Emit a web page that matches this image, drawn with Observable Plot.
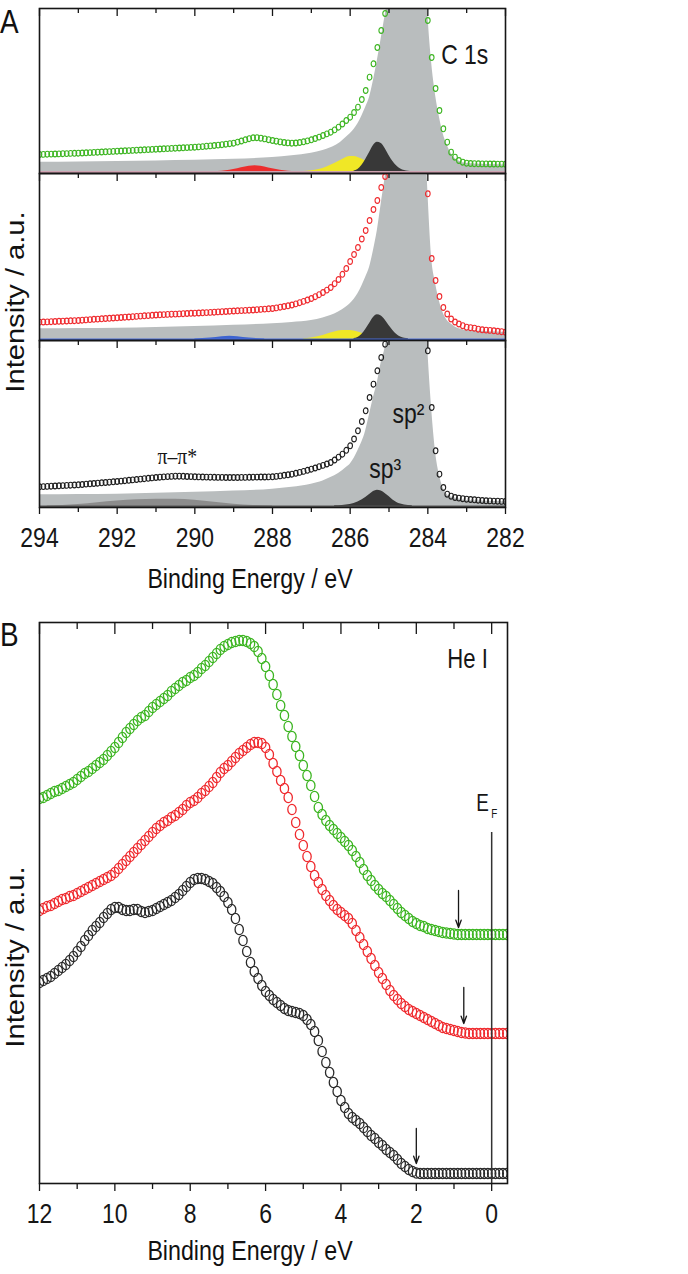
<!DOCTYPE html>
<html><head><meta charset="utf-8">
<script src="https://cdn.jsdelivr.net/npm/d3@7"></script>
<script src="https://cdn.jsdelivr.net/npm/@observablehq/plot@0.6"></script>
<style>
body{margin:0;background:#fff;}
#fig{position:relative;width:688px;height:1274px;background:#fff;overflow:hidden;}
.lbl{position:absolute;white-space:nowrap;color:#111;line-height:1;font-family:'Liberation Sans',Arial,sans-serif;}
</style></head><body><div id="fig"></div>
<script>
// ---------- Panel A (C 1s XPS): binding energy grid, eV ----------
const energyA = [
294.0,293.9,293.8,293.7,293.6,293.5,293.4,293.3,293.2,293.1,
293.0,292.9,292.8,292.7,292.6,292.5,292.4,292.3,292.2,292.1,
292.0,291.9,291.8,291.7,291.6,291.5,291.4,291.3,291.2,291.1,
291.0,290.9,290.8,290.7,290.6,290.5,290.4,290.3,290.2,290.1,
290.0,289.9,289.8,289.7,289.6,289.5,289.4,289.3,289.2,289.1,
289.0,288.9,288.8,288.7,288.6,288.5,288.4,288.3,288.2,288.1,
288.0,287.9,287.8,287.7,287.6,287.5,287.4,287.3,287.2,287.1,
287.0,286.9,286.8,286.7,286.6,286.5,286.4,286.3,286.2,286.1,
286.0,285.9,285.8,285.7,285.6,285.5,285.4,285.3,285.2,285.1,
285.0,284.9,284.8,284.7,284.6,284.5,284.4,284.3,284.2,284.1,
284.0,283.9,283.8,283.7,283.6,283.5,283.4,283.3,283.2,283.1,
283.0,282.9,282.8,282.7,282.6,282.5,282.4,282.3,282.2,282.1,
282.0];
// top spectrum (green)
const c1sGreen = [
19.0,19.1,19.3,19.4,19.5,19.6,19.8,19.9,20.1,20.2,
20.3,20.5,20.7,20.9,21.1,21.3,21.5,21.7,21.9,22.1,
22.3,22.5,22.7,22.9,23.1,23.3,23.5,23.7,23.9,24.1,
24.3,24.5,24.7,24.9,25.1,25.3,25.5,25.7,25.9,26.1,
26.3,26.6,26.9,27.3,27.6,28.0,28.4,28.8,29.3,29.8,
30.3,31.4,32.5,33.7,34.8,35.7,35.8,35.3,34.6,33.8,
33.0,32.3,31.6,31.0,30.6,30.3,30.5,31.0,31.7,32.6,
33.7,35.0,36.4,38.0,39.6,41.3,43.6,46.3,49.5,53.0,
56.3,61.0,66.3,74.0,83.0,96.3,109.7,126.0,143.0,160.0,
185,220,270,330,380,400,380,330,260,190,
153,116,85,63,44.7,31.3,21.3,16.3,13.0,11.3,
10.3,10.0,9.8,9.7,9.6,9.6,9.5,9.5,9.4,9.4,
9.3];
// middle spectrum (red)
const c1sRed = [
18.3,18.5,18.6,18.8,19.0,19.2,19.3,19.5,19.7,19.8,
20.0,20.3,20.6,20.9,21.2,21.4,21.7,22.0,22.2,22.5,
22.7,23.0,23.3,23.5,23.8,24.1,24.4,24.7,24.9,25.2,
25.5,25.7,25.9,26.1,26.3,26.4,26.6,26.8,27.0,27.2,
27.3,27.5,27.7,27.9,28.1,28.3,28.6,28.8,29.0,29.3,
29.5,29.7,29.9,30.1,30.3,30.5,30.8,31.1,31.4,31.7,
32.0,32.6,33.3,34.0,34.7,35.5,36.6,37.8,39.1,40.5,
42.0,43.8,45.8,48.0,50.4,53.0,56.8,61.0,66.2,72.0,
79.0,86.0,93.0,101.5,110.0,120.0,131.0,140.0,153.0,164.0,
190,230,280,340,390,410,390,340,270,200,
146.7,82,60,44,33,26.5,21.5,18.5,16.5,14.8,
13.3,12.8,12.3,11.3,10.7,10.4,10.1,9.7,9.2,8.8,
8.3];
// bottom spectrum (black)
const c1sBlack = [
20.7,20.9,21.1,21.3,21.5,21.7,21.9,22.1,22.3,22.5,
22.7,23.0,23.4,23.7,24.0,24.3,24.7,25.0,25.3,25.7,
26.0,26.4,26.8,27.2,27.6,28.0,28.4,28.8,29.2,29.6,
30.0,30.3,30.6,30.9,31.1,31.3,31.3,31.2,31.0,30.9,
30.7,30.6,30.5,30.4,30.3,30.2,30.1,30.1,30.0,30.0,
30.0,30.0,30.1,30.1,30.2,30.3,30.4,30.5,30.5,30.6,
30.7,31.1,31.6,32.2,32.7,33.3,34.2,35.1,36.1,37.2,
38.3,39.5,40.8,42.1,43.5,45.0,47.5,50.3,53.3,57.2,
61.7,68.5,76.7,86.0,96.7,110.0,123.3,136.7,150.0,163.3,
190,230,280,340,390,410,390,340,270,200,
156.7,100,56.7,33.3,20.0,13.3,11.3,10.0,9.4,8.8,
8.3,8.0,7.7,7.3,7.0,6.7,6.6,6.4,6.3,6.1,
6.0];
// sp2 component + background (grey fill)
const sp2Energy = [294,293,292,291,290,289,288,287.5,287,286.7,286.5,286.3,286.1,286.0,285.8,285.6,285.5,285.4,285.3,285.2,285.1,285.0,284.8,284.6,284.4,284.2,284.1,284.0,283.9,283.8,283.7,283.6,283.5,283.4,283.3,283.2,283.0,282.5,282.0];
const sp2Green = [11.3,11.6,12.0,12.6,13.3,14.3,16.0,17.7,20.3,23.0,25.7,29.7,36.3,39.7,49.7,66.3,76.3,93.0,113.0,135.0,158.0,185,300,420,420,320,240,160,110,78,56,39,28,20,15,12.5,10,9,8.5];
const sp2Red   = [11.7,12.0,12.3,13.1,14.0,15.2,16.7,18.0,20.0,22.5,25.0,28.5,33.5,36.7,46.7,63.3,73.3,90.0,110.0,136.7,163.0,195,300,420,420,320,240,150,82,57,39,27,20,16.5,13.5,11.7,10,9,8];
const sp2Black = [12.7,13.0,13.3,14.2,15.3,16.5,18.3,20.3,23.3,26.5,30.0,34.0,40.0,43.3,56.7,76.7,93.3,110.0,125.0,145.0,160.0,190,300,420,420,320,240,158,98,55,32,19,12.8,10.5,9.5,8.5,7.0,6.2,5.5];
// fitted minor components
const sp3GreenE = [285.9,285.8,285.7,285.6,285.5,285.4,285.3,285.2,285.1,285.0,284.9,284.8,284.7,284.6,284.5,284.4];
const sp3Green  = [2.5,4,8,14,21,28,31.3,30,25,18,12,7.5,4.5,3,2.3,2];
const cohGreenE = [287.2,287.0,286.8,286.6,286.4,286.2,286.0,285.9,285.8,285.6,285.4,285.2,285.0,284.8];
const cohGreen  = [2,2.8,4,6.5,10,14,17,17,16,12.5,8,5,3,2];
const cooGreenE = [289.4,289.2,289.0,288.8,288.6,288.45,288.3,288.1,287.9,287.7,287.5];
const cooGreen  = [2,2.8,4,5.8,7.3,7.8,7.2,5.5,4,2.8,2];
const sp3RedE = [285.9,285.8,285.7,285.6,285.5,285.4,285.3,285.2,285.1,285.0,284.9,284.8,284.7,284.6,284.5];
const sp3Red  = [2,3,6,11,17,23,25.7,24.5,20.5,15,10,6,3.5,2.3,1.8];
const cohRedE = [287.2,287.0,286.8,286.6,286.4,286.2,286.0,285.8,285.6,285.4,285.2,285.0];
const cohRed  = [1.8,2.5,4,6.3,8.5,10,10,8.5,6,4,2.5,1.8];
const bluRedE = [290.0,289.6,289.3,289.1,288.9,288.6,288.2];
const bluRed  = [1.5,2.5,3.8,4.3,3.8,2.5,1.5];
const piBlackE = [293.8,293.0,292.5,292.0,291.5,291.0,290.5,290.0,289.5,289.0,288.5,288.0];
const piBlack  = [1.5,3,4.8,6.5,7.8,8.3,8.2,7.2,5.3,3.3,2,1.5];
const sp3BlackE = [286.4,286.0,285.8,285.6,285.5,285.4,285.3,285.2,285.1,285.0,284.9,284.8,284.6,284.4];
const sp3Black  = [1.7,3,5.5,10,13,16,17.3,16.5,14,11,7.5,5,2.5,1.7];
const baseGreen = 1.5, baseRed = 1.0, baseBlack = 1.0;
const ticksAMajor = [294,292,290,288,286,284,282];
const ticksAMinor = [293,291,289,287,285,283];

// ---------- Panel B (He I UPS) ----------
const energyB = [
12.0,11.9,11.8,11.7,11.6,11.5,11.4,11.3,11.2,11.1,
11.0,10.9,10.8,10.7,10.6,10.5,10.4,10.3,10.2,10.1,
10.0,9.9,9.8,9.7,9.6,9.5,9.4,9.3,9.2,9.1,
9.0,8.9,8.8,8.7,8.6,8.5,8.4,8.3,8.2,8.1,
8.0,7.9,7.8,7.7,7.6,7.5,7.4,7.3,7.2,7.1,
7.0,6.9,6.8,6.7,6.6,6.5,6.4,6.3,6.2,6.1,
6.0,5.9,5.8,5.7,5.6,5.5,5.4,5.3,5.2,5.1,
5.0,4.9,4.8,4.7,4.6,4.5,4.4,4.3,4.2,4.1,
4.0,3.9,3.8,3.7,3.6,3.5,3.4,3.3,3.2,3.1,
3.0,2.9,2.8,2.7,2.6,2.5,2.4,2.3,2.2,2.1,
2.0,1.9,1.8,1.7,1.6,1.5,1.4,1.3,1.2,1.1,
1.0,0.9,0.8,0.7,0.6,0.5,0.4,0.3,0.2,0.1,
0.0,-0.1,-0.2,-0.3,-0.4];
const upsGreen = [
385,386,388,390,392,393,395,397,399,401,
404,407,410,412,415,418,421,424,428,432,
436,441,446,451,455,459,463,466,468,472,
476,479,482,485,488,492,495,498,501,503,
506,508,511,515,518,522,526,530,534,537,
539,541,542,543,543,542,540,537,532,525,
517,508,499,489,478,468,457,447,437,428,
418,408,398,387,376,369,363,358,354,350,
346,342,338,333,327,321,314,308,303,298,
294,290,287,283,279,275,271,268,265,262,
260,258,257,255,254,253,252,251,250.5,250,
249.5,249,249,249,249,249,249,249,249,249,
249,249,249,249,249];
const upsRed = [
273,275,277,278,280,282,284,285,287,288,
290,292,294,296,298,300,302,304,306,308,
311,315,319,323,327,331,335,339,343,347,
351,355,358,361,363,366,368,371,374,378,
381,383,386,390,393,397,401,406,411,415,
418,422,426,430,433,436,439,441,441,440,
436,429,420,412,403,395,386,374,361,349,
338,327,317,308,301,294,288,283,278,274,
271,268,265,260,253,246,239,232,225,218,
211,205,199,193,188,184,180,177,174,172,
170,168,166,164,162,160,158,156,155,154,
153,152,151,150.5,150,150,150,150,150,150,
150,150,150,150,150];
const upsBlack = [
201,203,205,207,210,213,216,219,223,227,
232,237,243,248,253,257,261,266,270,274,
276,276,274,273,273,274,274,272,271,272,
273,275,277,279,281,283,286,289,293,297,
301,304,305,305,304,302,300,296,292,287,
281,274,265,254,243,232,221,212,205,198,
192,188,184,181,178,175,173,172,171,170,
168,164,159,152,143,132,121,111,101,92,
83,76,70,66,63,60,56,52,48,45,
41,38,34,31,28,24,20,17,14,12,
10.5,10,10,10,10,10,10,10,10,10,
10,10,10,10,10,10,10,10,10,10,
10,10,10,10,10];
const onsetE    = [0.88, 0.74, 2.0];      // valence-band onsets (arrows)
const onsetFrom = [293, 196, 55];
const onsetTo   = [256, 160, 20];
const fermiE = 0, fermiTop = 351;
const ticksBMajor = [12,10,8,6,4,2,0];
const ticksBMinor = [11,9,7,5,3,1];

// ---------- drawing ----------
const INK = "#161616", GREY = "#b9bdbe";
const GREEN = "#3cb521", RED = "#ef2a2e";
const FONT = "'Liberation Sans',Arial,sans-serif";
const SQUEEZE = 0.82;   // the original lettering is condensed
const fig = document.getElementById("fig");
const zip = (xs, ys) => xs.map((x, i) => ({x, y: ys[i]}));
const oval = (ax) => ({draw(ctx, size) {
  const r = Math.sqrt(size / Math.PI), rx = r * ax, ry = r, k = 0.5523;
  ctx.moveTo(rx, 0);
  ctx.bezierCurveTo(rx, ry * k, rx * k, ry, 0, ry);
  ctx.bezierCurveTo(-rx * k, ry, -rx, ry * k, -rx, 0);
  ctx.bezierCurveTo(-rx, -ry * k, -rx * k, -ry, 0, -ry);
  ctx.bezierCurveTo(rx * k, -ry, rx, -ry * k, rx, 0);
  ctx.closePath();
}});
function place(svg, top) {
  svg.style.position = "absolute"; svg.style.left = "0px"; svg.style.top = top + "px";
  // condense every text horizontally about its own anchor (local x = 0)
  svg.querySelectorAll("text").forEach(t => {
    const tr = t.getAttribute("transform") || "";
    t.setAttribute("transform", `${tr} scale(${SQUEEZE},1)`);
  });
  fig.appendChild(svg);
}
const baseStyle = {fontFamily: FONT, color: INK, background: "transparent", overflow: "visible"};

function panelA({H, spec, color, sp2, comps, base, baseColor, notes, bottom}) {
  const mb = bottom ? 50 : 0;
  const marks = [
    Plot.areaY(zip(sp2Energy, sp2), {x: "x", y1: 0, y2: "y", fill: GREY, curve: "monotone-x", clip: true}),
    ...comps.map(c => Plot.areaY(zip(c.E, c.I), {x: "x", y1: base, y2: "y", fill: c.color, curve: "monotone-x", clip: true})),
    Plot.ruleY([base], {stroke: baseColor, strokeWidth: 2}),
    Plot.dot(zip(energyA, spec), {x: "x", y: "y", r: 2.9, symbol: oval(0.8), stroke: color, strokeWidth: 1.1, fill: "none", clip: true}),
    ...notes,
    Plot.gridX(ticksAMajor, {stroke: INK, strokeOpacity: 1, strokeWidth: 1.3, insetBottom: H - 8}),
    Plot.gridX(ticksAMinor, {stroke: INK, strokeOpacity: 1, strokeWidth: 1.3, insetBottom: H - 5}),
    Plot.frame({stroke: INK, strokeWidth: 1.6})
  ];
  if (bottom) {
    marks.push(Plot.axisX(ticksAMajor, {anchor: "bottom", tickSize: 7, tickPadding: 13, fontSize: 28, label: null, strokeWidth: 1.3}));
    marks.push(Plot.axisX(ticksAMinor, {anchor: "bottom", tickSize: 5, tickFormat: () => "", label: null, strokeWidth: 1.3}));
  }
  return Plot.plot({
    width: 688, height: H + mb, marginLeft: 39, marginRight: 183, marginTop: 0, marginBottom: mb,
    x: {domain: [294, 282], axis: null}, y: {domain: [0, H], axis: null},
    style: baseStyle, marks
  });
}

place(panelA({H: 165, spec: c1sGreen, color: GREEN, sp2: sp2Green, base: baseGreen, baseColor: "#cfa2b1",
  comps: [{E: cooGreenE, I: cooGreen, color: "#ec2d2d"}, {E: cohGreenE, I: cohGreen, color: "#f0e726"}, {E: sp3GreenE, I: sp3Green, color: "#383838"}],
  notes: [Plot.text(["C 1s"], {x: 283.05, y: 110, text: d => d, fontSize: 28, lineAnchor: "bottom", fill: INK})],
  bottom: false}), 8);

place(panelA({H: 167, spec: c1sRed, color: RED, sp2: sp2Red, base: baseRed, baseColor: "#4a6dd6",
  comps: [{E: bluRedE, I: bluRed, color: "#3d63d0"}, {E: cohRedE, I: cohRed, color: "#f0e726"}, {E: sp3RedE, I: sp3Red, color: "#383838"}],
  notes: [], bottom: false}), 173);

place(panelA({H: 167, spec: c1sBlack, color: "#1e1e1e", sp2: sp2Black, base: baseBlack, baseColor: "#555",
  comps: [{E: piBlackE, I: piBlack, color: "#8c8c8c"}, {E: sp3BlackE, I: sp3Black, color: "#383838"}],
  notes: [
    Plot.text(["sp²"], {x: 284.5, y: 85, text: d => d, fontSize: 28, lineAnchor: "bottom", fill: INK}),
    Plot.text(["sp³"], {x: 285.1, y: 30, text: d => d, fontSize: 28, lineAnchor: "bottom", fill: INK}),
    Plot.text(["π–π*"], {x: 290.45, y: 44, text: d => d, fontSize: 24, fontFamily: "'Liberation Serif',serif", lineAnchor: "bottom", fill: INK})
  ],
  bottom: true}), 340);

// Panel B
{
  const H = 561, mb = 50;
  const arrows = onsetE.map((e, i) => ({e, y1: onsetFrom[i], y2: onsetTo[i]}));
  const dotOpts = {x: "x", y: "y", r: 5.2, symbol: oval(0.8), strokeWidth: 1.3, fill: "none", clip: true};
  const svg = Plot.plot({
    width: 688, height: H + mb, marginLeft: 39, marginRight: 181, marginTop: 0, marginBottom: mb,
    x: {domain: [12, -0.42], axis: null}, y: {domain: [0, H], axis: null},
    style: baseStyle,
    marks: [
      Plot.dot(zip(energyB, upsBlack), {...dotOpts, stroke: "#2a2a2a"}),
      Plot.dot(zip(energyB, upsRed), {...dotOpts, stroke: RED}),
      Plot.dot(zip(energyB, upsGreen), {...dotOpts, stroke: GREEN}),
      Plot.ruleX([fermiE], {y1: 0, y2: fermiTop, stroke: "#333", strokeWidth: 1.5}),
      Plot.arrow(arrows, {x1: "e", x2: "e", y1: "y1", y2: "y2", stroke: INK, strokeWidth: 1.3, headLength: 9, headAngle: 40}),
      Plot.text(["He I"], {x: 0.64, y: 516, text: d => d, fontSize: 27, lineAnchor: "bottom", fill: INK}),
      Plot.text(["E"], {x: 0.24, y: 373, text: d => d, fontSize: 23, lineAnchor: "bottom", fill: INK}),
      Plot.text(["F"], {x: -0.07, y: 366, text: d => d, fontSize: 12, lineAnchor: "bottom", fill: INK}),
      Plot.gridX(ticksBMajor, {stroke: INK, strokeOpacity: 1, strokeWidth: 1.3, insetBottom: H - 12}),
      Plot.gridX(ticksBMinor, {stroke: INK, strokeOpacity: 1, strokeWidth: 1.3, insetBottom: H - 7}),
      Plot.frame({stroke: INK, strokeWidth: 1.6}),
      Plot.axisX(ticksBMajor, {anchor: "bottom", tickSize: 8, tickPadding: 12, fontSize: 28, label: null, strokeWidth: 1.3}),
      Plot.axisX(ticksBMinor, {anchor: "bottom", tickSize: 6, tickFormat: () => "", label: null, strokeWidth: 1.3})
    ]
  });
  place(svg, 622);
}

// HTML labels
function label(text, css) {
  const d = document.createElement("div");
  d.className = "lbl"; d.textContent = text;
  Object.assign(d.style, css); fig.appendChild(d); return d;
}
label("A", {left: "0px", top: "4px", fontSize: "34px", transformOrigin: "0 0", transform: `scale(${SQUEEZE},1)`});
label("B", {left: "0px", top: "617px", fontSize: "34px", transformOrigin: "0 0", transform: `scale(${SQUEEZE},1)`});
for (const top of [566, 1238]) {
  label("Binding Energy / eV", {left: "100px", width: "300px", textAlign: "center", top: top + "px", fontSize: "27px",
    transformOrigin: "150px 0", transform: "scale(0.86,1)"});
}
for (const cy of [302, 957]) {
  label("Intensity / a.u.", {left: "0px", top: "0px", fontSize: "26px",
    transformOrigin: "0 0", transform: `translate(15px, ${cy}px) rotate(-90deg) scale(1.12,1) translate(-50%, -50%)`});
}
</script></body></html>
